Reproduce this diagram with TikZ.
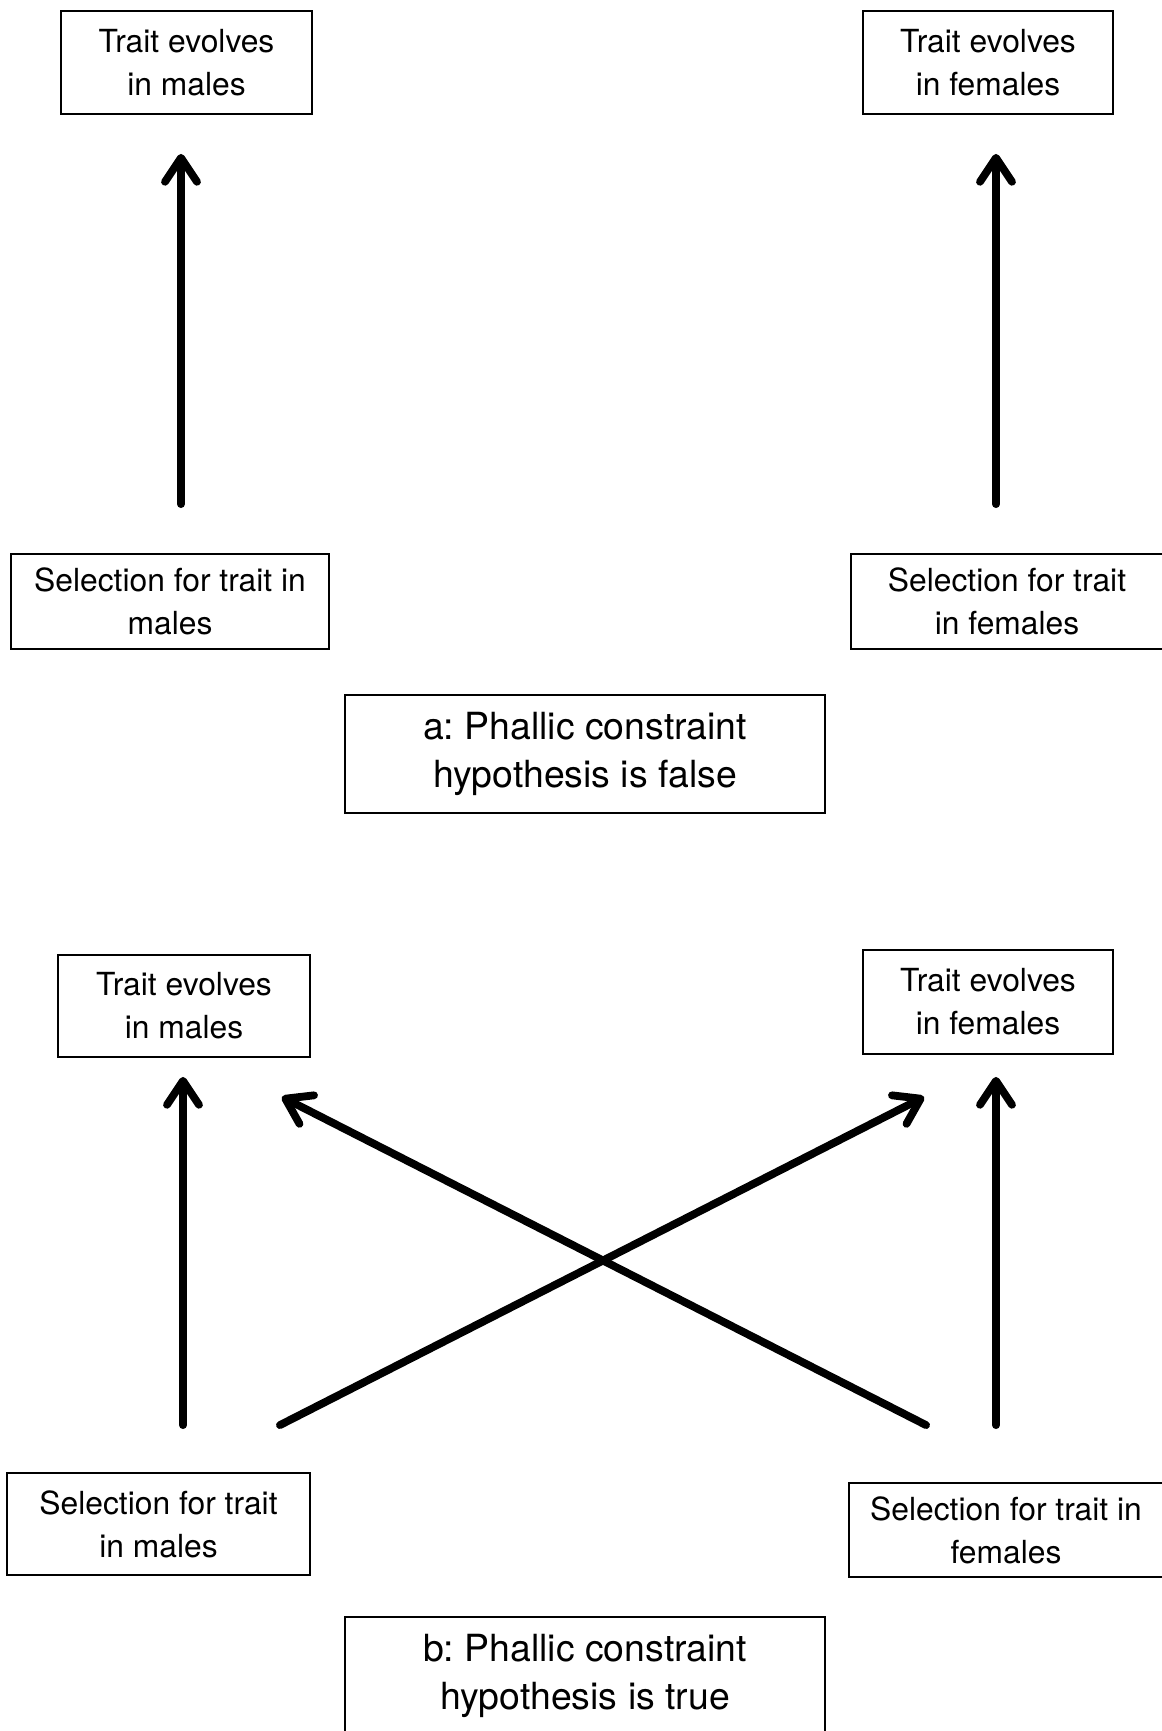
\documentclass[tikz,border=0pt]{standalone}
\usepackage{fontspec}
\setmainfont{TeX Gyre Heros}
\usetikzlibrary{arrows.meta}
\frenchspacing

\tikzset{
  txtbox/.style={draw, line width=0.9pt, align=center, inner sep=0pt, font=\fontsize{15.9}{21.5}\selectfont},
  bigbox/.style={txtbox, font=\fontsize{18.7}{24.3}\selectfont},
  thickarrow/.style={line width=3.9pt, line cap=round, -{Straight Barb[length=12pt, width=16pt, line cap=round, line join=round]}}
}

\begin{document}
\begin{tikzpicture}[x=0.5pt, y=-0.5pt]
\useasboundingbox (0,0) rectangle (1162,1731);

% a: hypothesis false
\node[txtbox, minimum width=125.5pt, minimum height=51.5pt] (tm1) at (186.5,62.5) {Trait evolves\\in males};
\node[txtbox, minimum width=125pt, minimum height=51.5pt] (tf1) at (988,62.5) {Trait evolves\\in females};
\node[txtbox, minimum width=159pt, minimum height=47.5pt] (sm1) at (170,601.5) {Selection for trait in\\males};
\node[txtbox, minimum width=156pt, minimum height=47.5pt] (sf1) at (1007,601.5) {Selection for trait\\in females};
\node[bigbox, minimum width=240pt, minimum height=59pt] (ha) at (585,754) {a: Phallic constraint\\hypothesis is false};

\draw[thickarrow, shorten <=24.5pt, shorten >=19.5pt] ([xshift=-2.75pt]tm1.south |- sm1.north) -- ([xshift=-2.75pt]tm1.south); %males
\draw[thickarrow, shorten <=24.5pt, shorten >=19.5pt] ([xshift=4pt]tf1.south |- sf1.north) -- ([xshift=4pt]tf1.south); %females

% b: hypothesis true
\node[txtbox, minimum width=126pt, minimum height=51pt] (tm2) at (184,1006) {Trait evolves\\in males};
\node[txtbox, minimum width=125pt, minimum height=52pt] (tf2) at (988,1002) {Trait evolves\\in females};
\node[txtbox, minimum width=151.5pt, minimum height=51pt] (sm2) at (158.5,1524) {Selection for trait\\in males};
\node[txtbox, minimum width=157pt, minimum height=47pt] (sf2) at (1006,1530) {Selection for trait in\\females};
\node[bigbox, minimum width=240pt, minimum height=59pt] (hb) at (585,1676) {b: Phallic constraint\\hypothesis is true};

\draw[thickarrow, shorten <=23.5pt, shorten >=9.5pt] ([xshift=-0.5pt]tm2.south |- sm2.north) -- ([xshift=-0.5pt]tm2.south); %males
\draw[thickarrow, shorten <=28.5pt, shorten >=11pt] ([xshift=4pt]tf2.south |- sf2.north) -- ([xshift=4pt]tf2.south); %females
\draw[thickarrow] ([xshift=-15.5pt, yshift=23.5pt]sm2.north east) -- ([xshift=31pt, yshift=-21pt]tf2.south west); %males to females
\draw[thickarrow] ([xshift=39pt, yshift=28.5pt]sf2.north west) -- ([xshift=-14.5pt, yshift=-19.5pt]tm2.south east); %females to males

\end{tikzpicture}
\end{document}
